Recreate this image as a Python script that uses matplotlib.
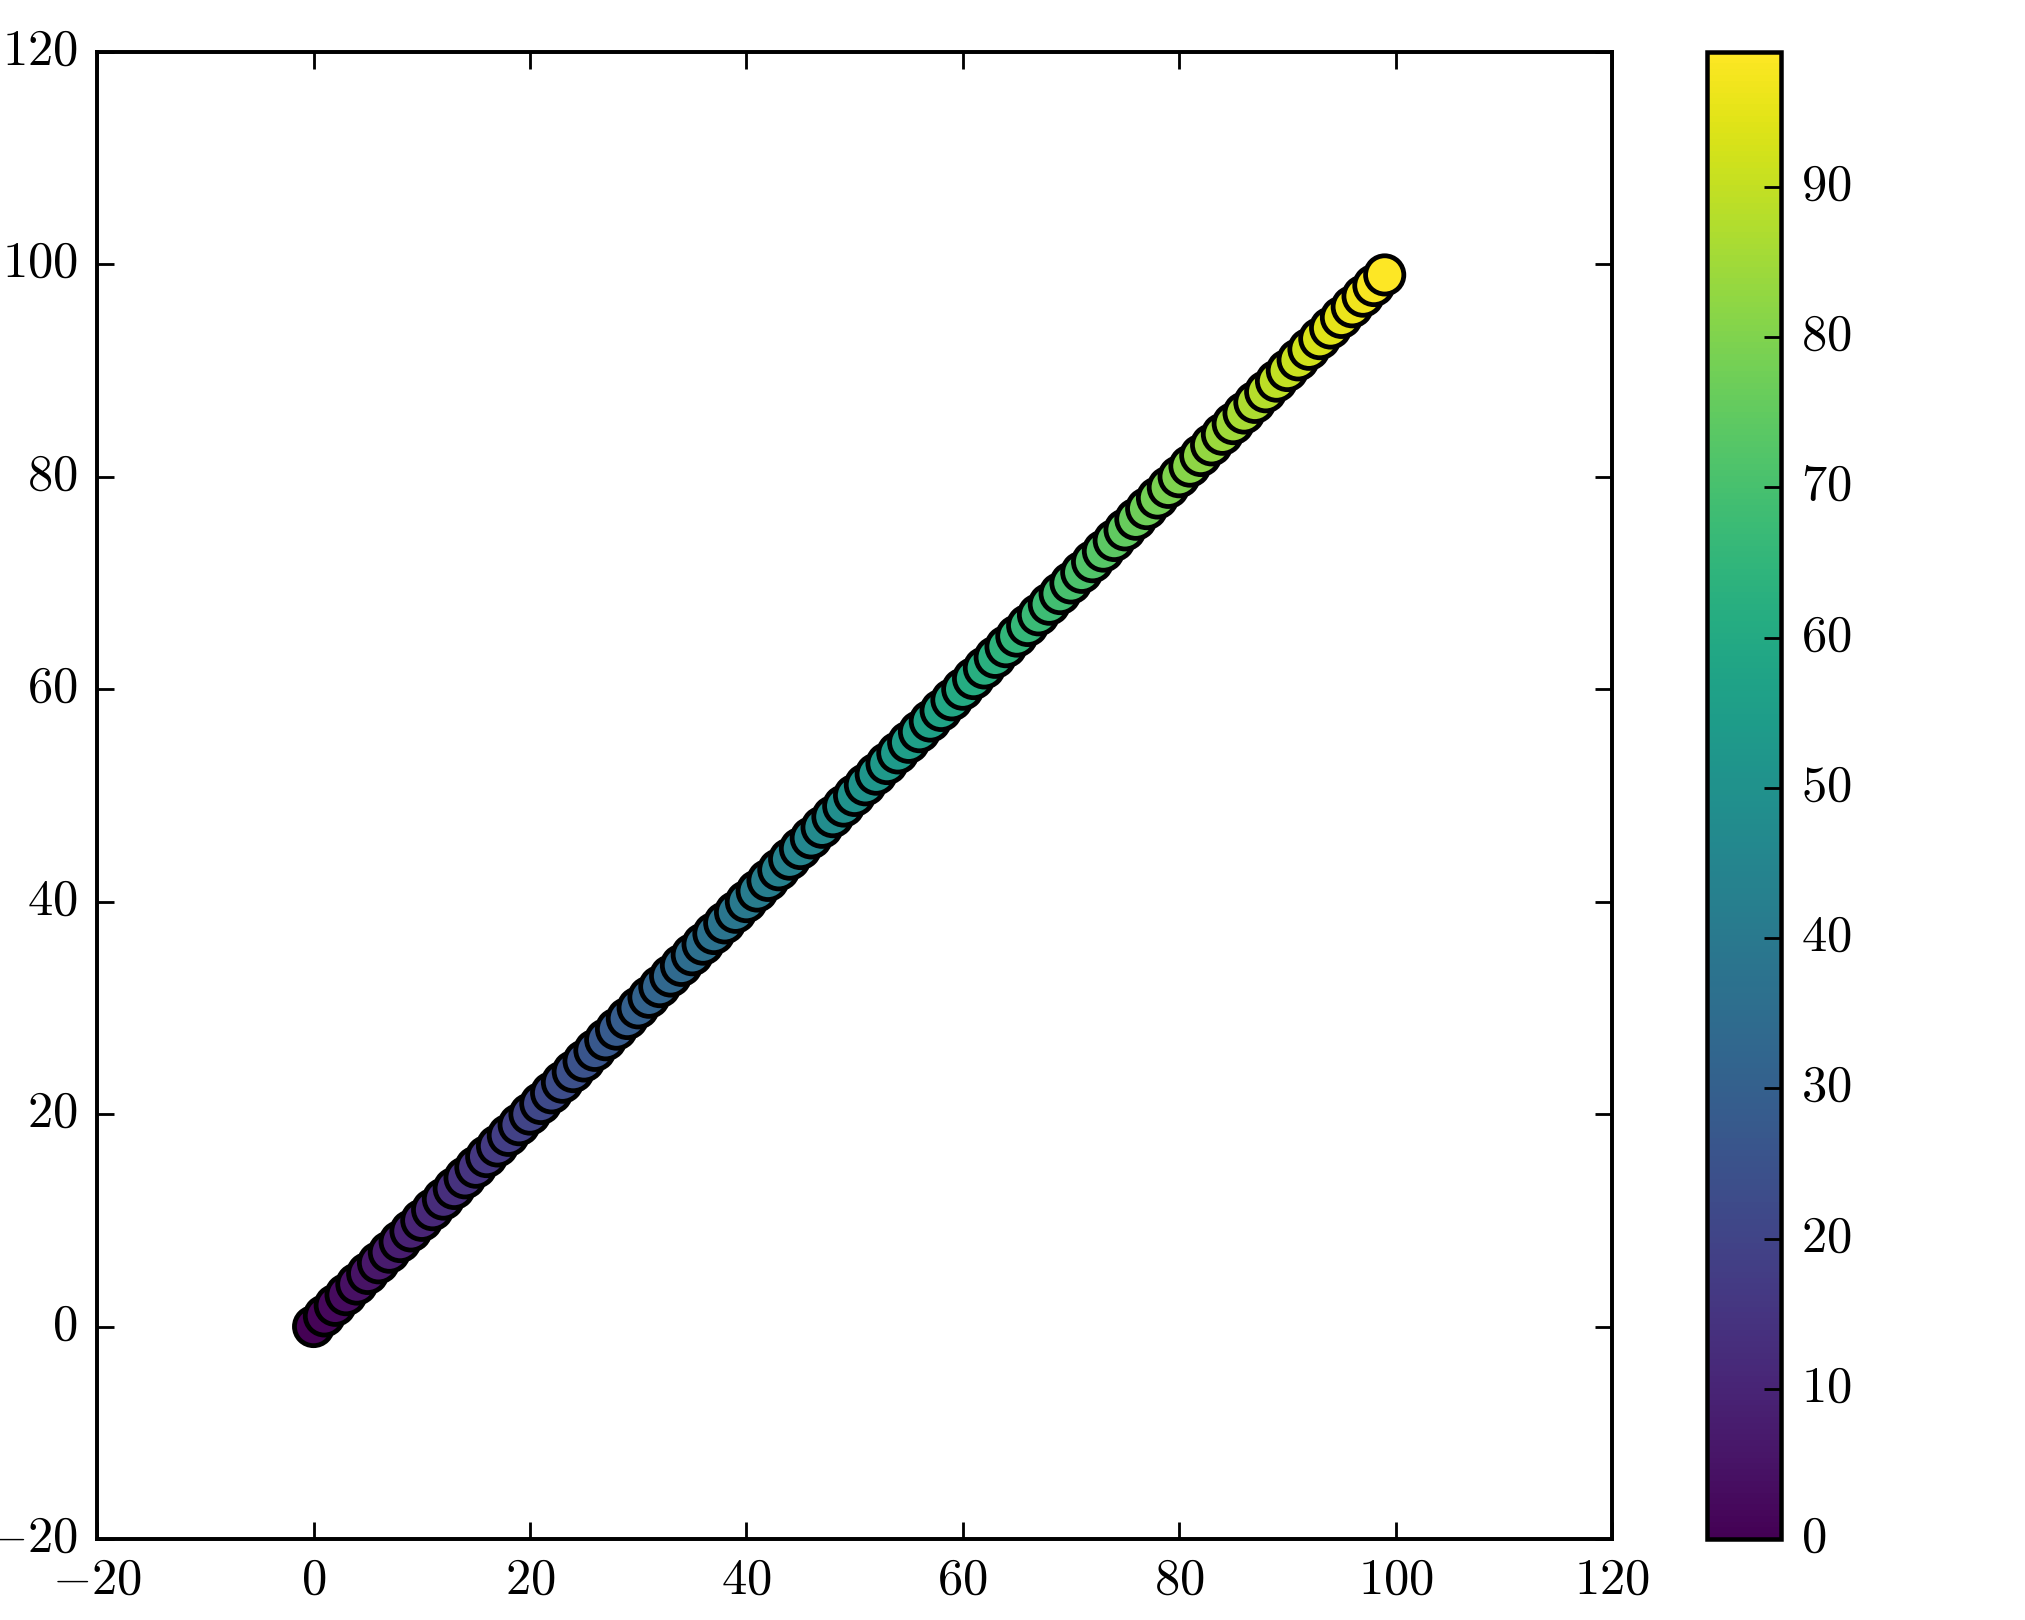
import matplotlib
matplotlib.use("Agg")
import matplotlib.pyplot as plt

# point positions and colour values
x_vals = [0, 1, 2, 3, 4, 5, 6, 7, 8, 9, 10, 11, 12, 13, 14, 15, 16, 17, 18, 19,
          20, 21, 22, 23, 24, 25, 26, 27, 28, 29, 30, 31, 32, 33, 34, 35, 36, 37, 38, 39,
          40, 41, 42, 43, 44, 45, 46, 47, 48, 49, 50, 51, 52, 53, 54, 55, 56, 57, 58, 59,
          60, 61, 62, 63, 64, 65, 66, 67, 68, 69, 70, 71, 72, 73, 74, 75, 76, 77, 78, 79,
          80, 81, 82, 83, 84, 85, 86, 87, 88, 89, 90, 91, 92, 93, 94, 95, 96, 97, 98, 99]
y_vals = list(x_vals)
c_vals = list(x_vals)

x_ticks = [-20, 0, 20, 40, 60, 80, 100, 120]
y_ticks = [-20, 0, 20, 40, 60, 80, 100, 120]
cbar_ticks = [0, 10, 20, 30, 40, 50, 60, 70, 80, 90]

plt.style.use("classic")
plt.rcParams["font.family"] = "serif"
plt.rcParams["font.serif"] = ["cmr10", "DejaVu Serif"]
plt.rcParams["mathtext.fontset"] = "cm"
plt.rcParams["axes.formatter.use_mathtext"] = True
plt.rcParams["font.size"] = 18

fig = plt.figure(figsize=(10, 8), dpi=202.5)
ax = fig.add_axes([0.048, 0.05, 0.748, 0.918])
cax = fig.add_axes([0.843, 0.05, 0.0365, 0.918])

sc = ax.scatter(x_vals, y_vals, c=c_vals, cmap="viridis", s=185,
                edgecolors="black", linewidths=1.7, zorder=3)

ax.set_xlim(-20, 120)
ax.set_ylim(-20, 120)
ax.set_xticks(x_ticks)
ax.set_yticks(y_ticks)
ax.tick_params(direction="in", length=6, width=1, pad=7, labelsize=18)
for sp in ax.spines.values():
    sp.set_linewidth(1.4)

cb = fig.colorbar(sc, cax=cax)
cb.set_ticks(cbar_ticks)
cb.ax.tick_params(direction="in", length=6, width=1, pad=7, labelsize=18)
cb.outline.set_linewidth(1.6)

fig.savefig("out.png", dpi=202.5)
